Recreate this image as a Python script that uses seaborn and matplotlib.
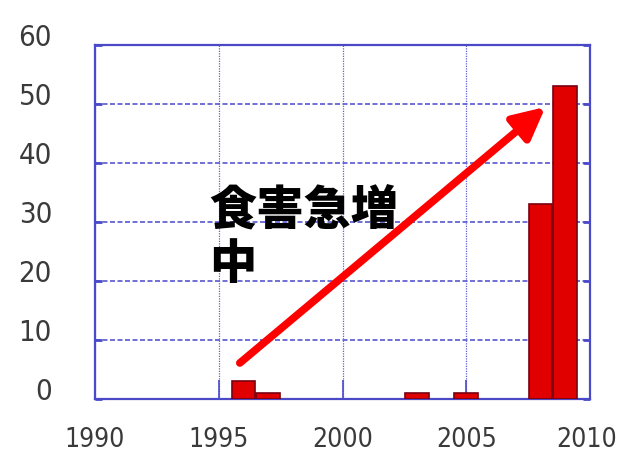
import matplotlib
matplotlib.use("Agg")
import matplotlib.pyplot as plt
import matplotlib.transforms as mtransforms
import seaborn as sns
import pandas as pd

years = [1996, 1997, 2003, 2005, 2008, 2009]
counts = [3, 1, 1, 1, 33, 53]
x_ticks = [1990, 1995, 2000, 2005, 2010]
y_ticks = [0, 10, 20, 30, 40, 50, 60]
label_text = "食害急増\n中"

sns.set_theme(style="white")
plt.rcParams['font.family'] = ['DejaVu Sans']

df = pd.DataFrame({"year": years, "count": counts})

fig = plt.figure(figsize=(6.21, 4.59), dpi=100)
ax = fig.add_axes([95/621, 60/459, 495/621, 354/459])

sns.barplot(data=df, x="year", y="count", native_scale=True, width=0.95,
            color="#e00000", edgecolor="#7a0010", linewidth=1.2, ax=ax,
            saturation=1, zorder=3)

ax.set_xlim(1990, 2010)
ax.set_ylim(0, 60)
ax.set_xticks(x_ticks)
ax.set_yticks(y_ticks)
ax.set_xlabel("")
ax.set_ylabel("")

frame_c = "#4a4ac8"
for s in ax.spines.values():
    s.set_color(frame_c)
    s.set_linewidth(1.6)
    s.set_visible(True)

ax.grid(True, axis="y", color="#5858d0", linestyle=(0, (3, 1.5)), linewidth=1.2, zorder=1)
ax.grid(True, axis="x", color="#6060d8", linestyle=(0, (1, 1)), linewidth=0.9, zorder=1)
ax.set_axisbelow(True)

ax.tick_params(axis="y", direction="in", length=5, width=2, color=frame_c,
               left=True, right=True, labelsize=21, labelcolor="#3a3a3a", pad=31)
ax.tick_params(axis="x", direction="in", length=14, width=1.2, color=frame_c,
               bottom=True, labelsize=19, labelcolor="#3a3a3a", pad=20)
for lab in ax.get_xticklabels() + ax.get_yticklabels():
    lab.set_fontstretch("condensed")

shift = mtransforms.ScaledTranslation(0, 10/100, fig.dpi_scale_trans)
for lab in ax.get_yticklabels():
    lab.set_transform(lab.get_transform() + shift)
xshift = mtransforms.ScaledTranslation(-3/100, 0, fig.dpi_scale_trans)
last = ax.get_xticklabels()[-1]
last.set_transform(last.get_transform() + xshift)

ax.annotate("", xy=(2008.2, 49.5), xytext=(1995.85, 6.1),
            arrowprops=dict(arrowstyle="-|>,head_length=1.6,head_width=0.8",
                            color="#ff0000", lw=5.5, shrinkA=0, shrinkB=0),
            zorder=5)

ax.text(1994.6, 36.0, label_text, fontsize=34, fontweight="black", color="black",
        family=["Noto Sans CJK JP", "DejaVu Sans"], va="top", ha="left",
        linespacing=1.13, zorder=6)

fig.savefig("out.png", dpi=100)
